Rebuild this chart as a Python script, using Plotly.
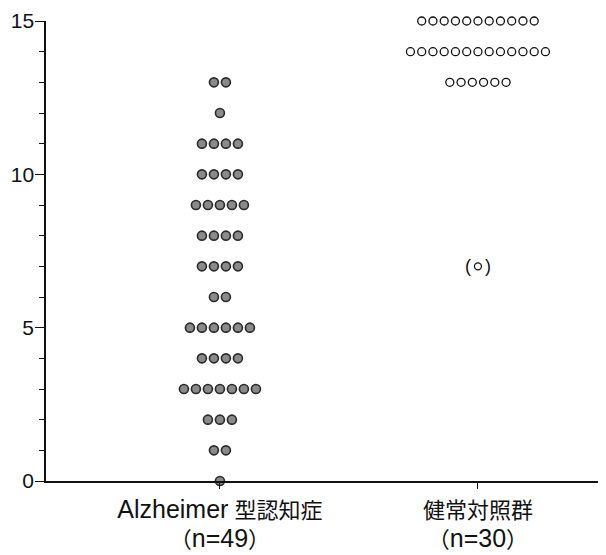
import plotly.graph_objects as go

# Data: score values and number of subjects at each score
categories = ["<span style='font-size:25px'>Alzheimer</span> 型認知症<br>（<span style='font-size:25px'>n=49</span>）",
              "健常対照群<br>（<span style='font-size:25px'>n=30</span>）"]
ad_scores = [13, 12, 11, 10, 9, 8, 7, 6, 5, 4, 3, 2, 1, 0]
ad_counts = [2, 1, 4, 4, 5, 4, 4, 2, 6, 4, 7, 3, 2, 1]
hc_scores = [15, 14, 13]
hc_counts = [11, 13, 6]
hc_outlier = [7]
y_ticks = [0, 5, 10, 15]

def swarm(center, scores, counts, step):
    xs, ys = [], []
    for s, c in zip(scores, counts):
        for i in range(c):
            xs.append(center + (i - (c - 1) / 2) * step)
            ys.append(s)
    return xs, ys

ax, ay = swarm(0, ad_scores, ad_counts, 0.0465)
hx, hy = swarm(1, hc_scores, hc_counts, 0.0436)

fig = go.Figure()
fig.add_trace(go.Scatter(
    x=ax, y=ay, mode="markers", cliponaxis=False,
    marker=dict(size=9, color="#8a8a8a", line=dict(color="#2a2a2a", width=1.6)),
    showlegend=False))
fig.add_trace(go.Scatter(
    x=hx, y=hy, mode="markers", cliponaxis=False,
    marker=dict(size=8, color="white", line=dict(color="#111", width=1.3)),
    showlegend=False))
fig.add_trace(go.Scatter(
    x=[1] * len(hc_outlier), y=hc_outlier, mode="markers", cliponaxis=False,
    marker=dict(size=7, color="white", line=dict(color="#111", width=1.3)),
    showlegend=False))
for v in hc_outlier:
    fig.add_annotation(x=1, y=v, text="(", showarrow=False, xshift=-10,
                       font=dict(size=18, color="#111", family="Liberation Sans, Arial"))
    fig.add_annotation(x=1, y=v, text=")", showarrow=False, xshift=10,
                       font=dict(size=18, color="#111", family="Liberation Sans, Arial"))

fig.update_layout(
    width=598, height=547,
    margin=dict(l=38, r=6, t=13, b=74),
    plot_bgcolor="white", paper_bgcolor="white",
    font=dict(family="Liberation Sans, Arial, Noto Sans CJK JP", color="#111"),
)
fig.update_xaxes(
    range=[-0.674, 1.473], tickvals=[0, 1], ticktext=categories, automargin=False,
    showgrid=False, zeroline=False, showline=True, linecolor="#111", linewidth=1.5,
    ticks="outside", ticklen=6, tickcolor="#111", tickwidth=1, ticklabelstandoff=3,
    tickfont=dict(size=22, family="Liberation Sans, Arial, Noto Sans CJK JP"),
)
fig.update_yaxes(
    range=[0, 15], tickvals=y_ticks, ticklabeloverflow="allow", automargin=False,
    showgrid=False, zeroline=False, showline=True, linecolor="#111", linewidth=1.5,
    ticks="outside", ticklen=9, tickcolor="#111", tickwidth=1.3, ticklabelstandoff=-3,
    minor=dict(dtick=1, ticks="outside", ticklen=5, tickcolor="#111", tickwidth=1),
    tickfont=dict(size=21, family="Liberation Sans, Arial"),
)
fig.write_html("out.html")
